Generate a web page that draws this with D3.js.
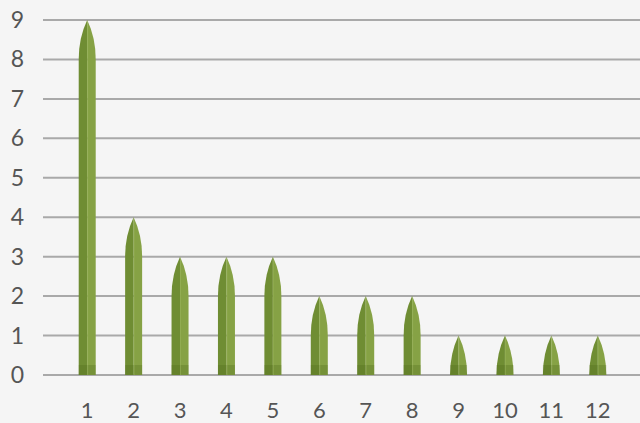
<!DOCTYPE html>
<html>
<head>
<meta charset="utf-8">
<script src="https://cdn.jsdelivr.net/npm/d3@7"></script>
<style>
  html, body { margin: 0; padding: 0; background: #f5f5f5; }
  svg { display: block; }
  text { font-family: Lato, "Open Sans", sans-serif; fill: #555555; }
</style>
</head>
<body>
<svg id="chart" width="640" height="423"></svg>
<script>
// Category labels and values of the bullet chart
const categories = ["1", "2", "3", "4", "5", "6", "7", "8", "9", "10", "11", "12"];
const values = [9, 4, 3, 3, 3, 2, 2, 2, 1, 1, 1, 1];
const yTicks = [0, 1, 2, 3, 4, 5, 6, 7, 8, 9];

const svg = d3.select("#chart");
const W = 640, H = 423;

const x = d3.scaleBand().domain(categories).range([64, 621]).paddingInner(0).paddingOuter(0);
const y = d3.scaleLinear().domain([0, 9]).range([375, 20]);

svg.append("rect").attr("width", W).attr("height", H).attr("fill", "#f5f5f5");

// Horizontal gridlines
svg.append("g").selectAll("line").data(yTicks).join("line")
  .attr("x1", 43).attr("x2", W)
  .attr("y1", d => y(d)).attr("y2", d => y(d))
  .attr("stroke", "#a9a9a9").attr("stroke-width", 2);

// Y axis labels
svg.append("g").selectAll("text").data(yTicks).join("text")
  .attr("x", 24).attr("y", d => y(d) + 8)
  .attr("text-anchor", "end")
  .attr("font-size", 23).attr("font-weight", 400)
  .text(d => d);

// X axis labels
svg.append("g").selectAll("text").data(categories).join("text")
  .attr("x", d => x(d) + x.bandwidth() / 2)
  .attr("y", 418)
  .attr("text-anchor", "middle")
  .attr("font-size", 22).attr("font-weight", 400)
  .text(d => d);

const bw = 17;
const data = categories.map((c, i) => ({ c, v: values[i] }));

function halfPath(d, side) {
  const cx = x(d.c) + x.bandwidth() / 2;
  const edge = side < 0 ? cx - bw / 2 : cx + bw / 2;
  const yb = y(0), ys = y(d.v - 1), yt = y(d.v);
  const yc = y(d.v - 0.45);
  return `M${cx},${yb} L${edge},${yb} L${edge},${ys} Q${edge},${yc} ${cx},${yt} Z`;
}

const bars = svg.append("g").selectAll("g").data(data).join("g");
bars.append("path").attr("d", d => halfPath(d, -1)).attr("fill", "#6f8d33");
bars.append("path").attr("d", d => halfPath(d, 1)).attr("fill", "#86a245");
// darker base band
bars.append("rect")
  .attr("x", d => x(d.c) + x.bandwidth() / 2 - bw / 2)
  .attr("y", y(0) - 10)
  .attr("width", bw).attr("height", 10)
  .attr("fill", "#4e6a1c").attr("opacity", 0.3);
// thin highlight along the centre
bars.append("line")
  .attr("x1", d => x(d.c) + x.bandwidth() / 2 + 0.5)
  .attr("x2", d => x(d.c) + x.bandwidth() / 2 + 0.5)
  .attr("y1", y(0)).attr("y2", d => y(d.v) + 3)
  .attr("stroke", "#9ab55a").attr("stroke-width", 1).attr("opacity", 0.5);
</script>
</body>
</html>
